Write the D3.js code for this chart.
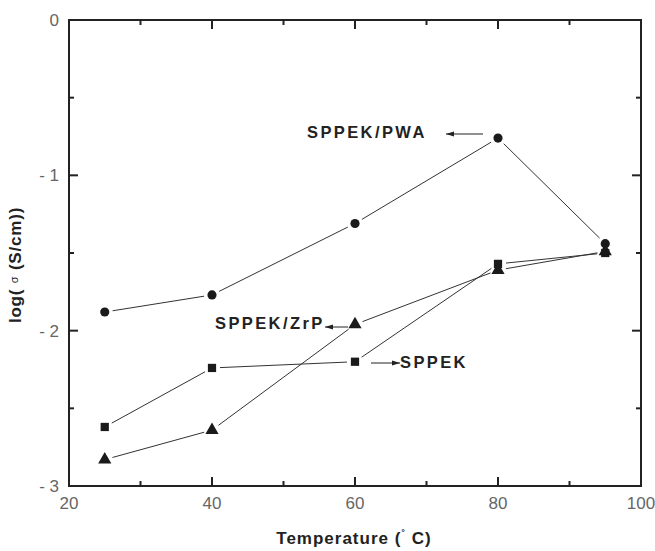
<!DOCTYPE html>
<html>
<head>
<meta charset="utf-8">
<script src="https://cdn.jsdelivr.net/npm/d3@7"></script>
<style>
  body { margin: 0; background: #fff; }
  svg { display: block; }
</style>
</head>
<body>
<svg width="655" height="551"></svg>
<script>
var temps = [25, 40, 60, 80, 95];
var pwa = [-1.88, -1.77, -1.31, -0.76, -1.44];
var zrp = [-2.83, -2.64, -1.96, -1.61, -1.49];
var sppek = [-2.62, -2.24, -2.20, -1.57, -1.50];
var xTicks = [20, 40, 60, 80, 100];
var yTicks = [0, -1, -2, -3];

var svg = d3.select('svg');
var plotL = 69, plotR = 641, plotT = 20, plotB = 486;

var x = d3.scaleLinear().domain([20, 100]).range([plotL, plotR]);
var y = d3.scaleLinear().domain([-3, 0]).range([plotB, plotT]);

var ink = "#222";

// frame
svg.append("rect")
    .attr("x", plotL).attr("y", plotT)
    .attr("width", plotR - plotL).attr("height", plotB - plotT)
    .attr("fill", "none").attr("stroke", ink).attr("stroke-width", 2);

// ticks (inward, all four sides)
var xMinor = d3.range(30, 100, 20);
var yMinor = [-0.5, -1.5, -2.5];
function tickLines(vals, len, horiz) {
    vals.forEach(function(v) {
        if (horiz) {
            svg.append("line").attr("x1", x(v)).attr("x2", x(v)).attr("y1", plotB).attr("y2", plotB - len)
                .attr("stroke", ink).attr("stroke-width", 2);
            svg.append("line").attr("x1", x(v)).attr("x2", x(v)).attr("y1", plotT).attr("y2", plotT + len)
                .attr("stroke", ink).attr("stroke-width", 2);
        } else {
            svg.append("line").attr("y1", y(v)).attr("y2", y(v)).attr("x1", plotL).attr("x2", plotL + len)
                .attr("stroke", ink).attr("stroke-width", 2);
            svg.append("line").attr("y1", y(v)).attr("y2", y(v)).attr("x1", plotR).attr("x2", plotR - len)
                .attr("stroke", ink).attr("stroke-width", 2);
        }
    });
}
tickLines(xTicks.slice(1, -1), 9, true);
tickLines(xMinor, 5, true);
tickLines(yTicks.slice(1, -1), 9, false);
tickLines(yMinor, 5, false);

// tick labels
svg.selectAll(".xl").data(xTicks).enter().append("text")
    .attr("x", function(d) { return x(d); })
    .attr("y", plotB + 23)
    .attr("text-anchor", "middle")
    .style("font-family", "Liberation Sans, Arial, sans-serif")
    .style("font-size", "17px")
    .attr("fill", "#666")
    .text(function(d) { return d; });

svg.selectAll(".yl").data(yTicks).enter().append("text")
    .attr("x", plotL - 10)
    .attr("y", function(d) { return y(d) + 6; })
    .attr("text-anchor", "end")
    .style("font-family", "Liberation Sans, Arial, sans-serif")
    .style("font-size", "17px")
    .attr("fill", "#666")
    .text(function(d) { return d === 0 ? "0" : "- " + Math.abs(d); });

// axis titles
svg.append("text")
    .attr("x", 354).attr("y", 544)
    .attr("text-anchor", "middle")
    .style("font-family", "Liberation Sans, Arial, sans-serif")
    .style("font-size", "17px").style("font-weight", "bold")
    .style("letter-spacing", "1px")
    .attr("fill", ink)
    .html("Temperature (<tspan font-size='11px' dy='-6'>˚</tspan><tspan dy='6'> C)</tspan>");

svg.append("text")
    .attr("text-anchor", "middle")
    .attr("transform", "translate(21,265)rotate(-90)")
    .style("font-family", "Liberation Sans, Arial, sans-serif")
    .style("font-size", "17px").style("font-weight", "bold")
    .style("letter-spacing", "0.8px")
    .attr("fill", ink)
    .html("log( <tspan font-size='11px' font-weight='normal' dy='-3'>σ</tspan><tspan dy='3'> (S/cm))</tspan>");

// series: lines with gaps at markers
function drawSeries(vals, shape) {
    var pts = temps.map(function(t, i) { return [x(t), y(vals[i])]; });
    var gap = 8;
    for (var i = 0; i < pts.length - 1; i++) {
        var a = pts[i], b = pts[i + 1];
        var dx = b[0] - a[0], dy = b[1] - a[1], L = Math.sqrt(dx * dx + dy * dy);
        var ux = dx / L, uy = dy / L;
        svg.append("line")
            .attr("x1", a[0] + ux * gap).attr("y1", a[1] + uy * gap)
            .attr("x2", b[0] - ux * gap).attr("y2", b[1] - uy * gap)
            .attr("stroke", "#333").attr("stroke-width", 1);
    }
    var sym = {
        circle: d3.symbol().type(d3.symbolCircle).size(66),
        square: d3.symbol().type(d3.symbolSquare).size(68),
        triangle: d3.symbol().type(d3.symbolTriangle).size(75)
    }[shape];
    svg.selectAll(".m-" + shape).data(pts).enter().append("path")
        .attr("d", sym)
        .attr("transform", function(d) { return "translate(" + d[0] + "," + d[1] + ")"; })
        .attr("fill", "#1a1a1a");
}
drawSeries(pwa, "circle");
drawSeries(sppek, "square");
drawSeries(zrp, "triangle");

// annotations
function label(txt, tx, ty, anchor) {
    svg.append("text")
        .attr("x", tx).attr("y", ty)
        .attr("text-anchor", anchor)
        .style("font-family", "Liberation Sans, Arial, sans-serif")
        .style("font-size", "16.5px").style("font-weight", "bold")
        .style("letter-spacing", "2.4px")
        .attr("fill", ink)
        .text(txt);
}
function arrow(x1, x2, yy) {
    svg.append("line").attr("x1", x1).attr("x2", x2).attr("y1", yy).attr("y2", yy)
        .attr("stroke", ink).attr("stroke-width", 1);
    var dir = x2 > x1 ? 1 : -1;
    svg.append("path")
        .attr("d", "M" + x2 + "," + yy + "L" + (x2 - dir * 8) + "," + (yy - 2.5) + "L" + (x2 - dir * 8) + "," + (yy + 2.5) + "Z")
        .attr("fill", ink);
}
label("SPPEK/PWA", 307, 138, "start");
arrow(483, 446, 134);
label("SPPEK/ZrP", 215, 329, "start");
arrow(348, 325, 327);
label("SPPEK", 400, 368, "start");
arrow(371, 400, 363);
</script>
</body>
</html>
